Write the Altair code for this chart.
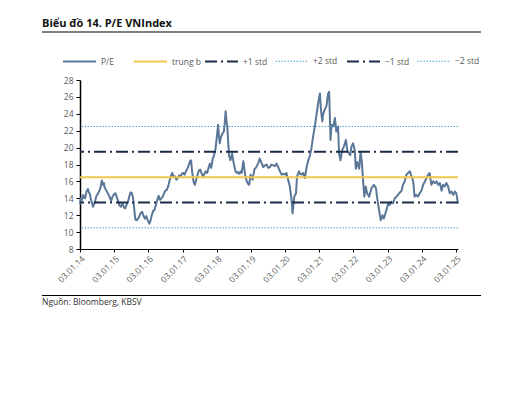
import altair as alt
import pandas as pd

# P/E VNIndex, sampled along decimal years
years = [
    2014.00, 2014.03, 2014.06, 2014.09, 2014.12, 2014.15, 2014.19, 2014.23, 2014.26, 2014.29,
    2014.32, 2014.35, 2014.38, 2014.41, 2014.44, 2014.48, 2014.52, 2014.57, 2014.60, 2014.64,
    2014.67, 2014.70, 2014.72, 2014.76, 2014.80, 2014.84, 2014.88, 2014.91, 2014.95, 2015.00,
    2015.04, 2015.08, 2015.12, 2015.15, 2015.20, 2015.24, 2015.28, 2015.32, 2015.36, 2015.40,
    2015.44, 2015.48, 2015.52, 2015.56, 2015.59, 2015.62, 2015.66, 2015.70, 2015.74, 2015.78,
    2015.82, 2015.86, 2015.90, 2015.94, 2015.97, 2016.03, 2016.06, 2016.10, 2016.14, 2016.18,
    2016.22, 2016.26, 2016.30, 2016.34, 2016.38, 2016.42, 2016.46, 2016.50, 2016.54, 2016.58,
    2016.62, 2016.66, 2016.70, 2016.74, 2016.78, 2016.82, 2016.86, 2016.90, 2016.94, 2016.98,
    2017.02, 2017.06, 2017.10, 2017.14, 2017.18, 2017.22, 2017.25, 2017.28, 2017.32, 2017.36,
    2017.40, 2017.44, 2017.48, 2017.52, 2017.56, 2017.60, 2017.64, 2017.68, 2017.72, 2017.76,
    2017.80, 2017.84, 2017.88, 2017.92, 2017.96, 2018.00, 2018.04, 2018.07, 2018.09, 2018.12,
    2018.16, 2018.21, 2018.24, 2018.26, 2018.29, 2018.31, 2018.34, 2018.36, 2018.40, 2018.45,
    2018.50, 2018.55, 2018.59, 2018.62, 2018.66, 2018.70, 2018.73, 2018.76, 2018.78, 2018.81,
    2018.84, 2018.88, 2018.92, 2018.95, 2018.99, 2019.02, 2019.05, 2019.08, 2019.10, 2019.14,
    2019.17, 2019.21, 2019.26, 2019.31, 2019.36, 2019.41, 2019.46, 2019.51, 2019.56, 2019.60,
    2019.65, 2019.70, 2019.75, 2019.80, 2019.85, 2019.90, 2019.95, 2020.00, 2020.04, 2020.09,
    2020.14, 2020.19, 2020.22, 2020.25, 2020.27, 2020.32, 2020.35, 2020.41, 2020.44, 2020.48,
    2020.53, 2020.58, 2020.63, 2020.68, 2020.73, 2020.77, 2020.82, 2020.87, 2020.92, 2020.97,
    2021.02, 2021.05, 2021.09, 2021.11, 2021.16, 2021.21, 2021.26, 2021.29, 2021.33, 2021.36,
    2021.41, 2021.46, 2021.50, 2021.55, 2021.58, 2021.62, 2021.67, 2021.72, 2021.78, 2021.82,
    2021.87, 2021.91, 2021.94, 2021.99, 2022.04, 2022.07, 2022.11, 2022.17, 2022.21, 2022.25,
    2022.28, 2022.32, 2022.36, 2022.40, 2022.46, 2022.53, 2022.60, 2022.66, 2022.69, 2022.75,
    2022.80, 2022.85, 2022.89, 2022.95, 2023.02, 2023.06, 2023.11, 2023.16, 2023.21, 2023.26,
    2023.34, 2023.41, 2023.45, 2023.50, 2023.55, 2023.60, 2023.65, 2023.70, 2023.75, 2023.79,
    2023.84, 2023.89, 2023.94, 2023.99, 2024.04, 2024.09, 2024.14, 2024.19, 2024.23, 2024.28,
    2024.33, 2024.38, 2024.43, 2024.48, 2024.53, 2024.58, 2024.62, 2024.67, 2024.72, 2024.77,
    2024.82, 2024.87, 2024.92, 2024.97, 2025.01, 2025.06,
]
pe = [
    13.3, 14.0, 13.8, 14.4, 14.1, 14.0, 14.8, 15.1, 14.7, 14.5,
    13.8, 13.5, 13.0, 13.3, 13.6, 14.3, 14.5, 14.9, 15.3, 16.1,
    15.6, 15.8, 15.3, 15.0, 14.7, 14.4, 14.0, 13.7, 14.2, 14.5,
    14.6, 14.1, 13.6, 13.2, 13.0, 13.4, 13.0, 12.8, 13.2, 13.5,
    14.2, 14.7, 14.6, 13.8, 12.6, 11.5, 11.4, 11.6, 11.9, 12.3,
    12.4, 11.9, 11.6, 11.9, 11.5, 11.0, 11.3, 12.0, 12.5, 12.6,
    13.2, 13.8, 14.3, 13.8, 14.0, 14.2, 14.6, 14.9, 15.0, 15.4,
    16.1, 16.6, 17.0, 16.5, 16.6, 16.2, 16.4, 16.7, 16.6, 16.9,
    17.0, 16.8, 17.2, 17.5, 17.9, 18.4, 18.5, 17.2, 16.0, 15.6,
    16.2, 16.8, 17.3, 17.4, 16.9, 16.6, 16.9, 17.2, 17.0, 17.6,
    18.1, 17.6, 18.6, 19.1, 19.7, 21.1, 22.7, 21.2, 20.5, 21.2,
    21.6, 21.9, 23.2, 24.3, 23.0, 22.5, 20.4, 19.1, 18.5, 19.3,
    18.1, 17.2, 17.0, 17.1, 16.9, 17.2, 17.0, 17.8, 18.4, 17.4,
    16.6, 16.0, 15.7, 15.6, 16.8, 16.5, 16.2, 16.9, 17.4, 17.6,
    17.8, 18.1, 18.7, 18.2, 17.7, 17.9, 18.0, 17.6, 17.7, 18.0,
    17.9, 17.8, 18.1, 17.7, 17.2, 16.8, 16.9, 16.8, 17.0, 16.2,
    15.4, 13.8, 12.2, 13.4, 14.2, 14.6, 16.6, 17.2, 16.9, 16.8,
    17.0, 16.4, 17.7, 18.5, 19.1, 19.9, 21.3, 22.5, 23.9, 25.3,
    26.4, 24.5, 23.1, 23.9, 24.5, 24.9, 26.4, 26.6, 20.9, 22.7,
    22.5, 23.5, 21.9, 22.5, 19.3, 18.5, 19.7, 20.1, 20.9, 19.7,
    19.3, 19.1, 20.1, 20.5, 19.7, 17.5, 18.3, 17.5, 19.5, 18.1,
    16.2, 14.2, 15.4, 14.6, 14.2, 15.2, 15.6, 15.2, 14.2, 12.6,
    11.4, 12.0, 11.6, 12.4, 13.4, 13.2, 13.6, 13.4, 14.0, 14.2,
    14.6, 14.9, 15.6, 16.0, 16.8, 17.0, 17.2, 16.6, 16.0, 14.2,
    14.4, 14.2, 14.6, 14.9, 15.6, 16.0, 16.4, 16.8, 17.0, 15.6,
    16.0, 15.8, 16.0, 15.6, 15.8, 14.9, 15.6, 15.4, 15.8, 15.4,
    14.6, 14.8, 14.4, 14.8, 14.6, 13.4,
]

# Average and standard-deviation bands
level_names = ["trung b", "+1 std", "+2 std", "\u22121 std", "\u22122 std"]
level_values = [16.5, 19.5, 22.5, 13.5, 10.5]

series_order = ["P/E"] + level_names
series_colors = ["#5B7797", "#F0C84E", "#1C2B4A", "#4A9FCF", "#1C2B4A", "#4A9FCF"]
series_dash = [[1, 0], [1, 0], [12, 4, 2, 4], [1.5, 1.5], [12, 4, 2, 4], [1.5, 1.5]]
series_width = [2, 2, 2, 1, 2, 1]

year_ticks = list(range(2014, 2026))
pe_ticks = list(range(8, 29, 2))

title_text = "Biểu đồ 14. P/E VNIndex"
source_text = "Nguồn: Bloomberg, KBSV"

pe_df = pd.DataFrame({"year": years, "pe": pe, "series": "P/E"})
lvl_df = pd.DataFrame({"value": level_values, "series": level_names})

FONT = "Open Sans"

x_enc = alt.X(
    "year:Q",
    scale=alt.Scale(domain=[2014, 2025.06], nice=False, zero=False),
    axis=alt.Axis(
        values=year_ticks,
        labelExpr="'03.01.' + slice(toString(datum.value), 2)",
        labelAngle=-45,
        labelOverlap=False,
        grid=False,
        title=None,
        domainColor="#000000",
        domainWidth=1.2,
        tickColor="#000000",
        tickSize=3,
        labelFontSize=8.5,
        labelColor="#595959",
        labelFont=FONT,
        labelPadding=2,
    ),
)
y_scale = alt.Scale(domain=[8, 28], nice=False, zero=False)
y_axis = alt.Axis(
    values=pe_ticks,
    grid=False,
    title=None,
    labelOverlap=False,
    domainColor="#000000",
    domainWidth=1.5,
    tickColor="#000000",
    tickSize=4,
    labelFontSize=8.5,
    labelColor="#595959",
    labelFont=FONT,
    labelPadding=3,
)

legend = alt.Legend(title=None)
color_enc = alt.Color("series:N", scale=alt.Scale(domain=series_order, range=series_colors), legend=legend)
dash_enc = alt.StrokeDash("series:N", scale=alt.Scale(domain=series_order, range=series_dash), legend=legend)
width_enc = alt.StrokeWidth(
    "series:N",
    scale=alt.Scale(type="ordinal", domain=series_order, range=series_width),
    legend=legend,
)

pe_line = alt.Chart(pe_df).mark_line(strokeJoin="round").encode(
    x=x_enc,
    y=alt.Y("pe:Q", scale=y_scale, axis=y_axis),
    color=color_enc,
    strokeDash=dash_enc,
    strokeWidth=width_enc,
)

bands = alt.Chart(lvl_df).mark_rule().encode(
    y=alt.Y("value:Q", scale=y_scale, axis=y_axis),
    color=color_enc,
    strokeDash=dash_enc,
    strokeWidth=width_enc,
)

heading = alt.Chart(pd.DataFrame({"label": [title_text]})).mark_text(
    align="left", baseline="middle", font=FONT, fontWeight="bold", fontSize=11, color="#111111"
).encode(x=alt.value(-38), y=alt.value(-56), text="label:N")

heading_rule = alt.Chart(pd.DataFrame({"k": [0]})).mark_rule(color="#000000", strokeWidth=1).encode(
    x=alt.value(-38), x2=alt.value(401), y=alt.value(-48)
)

footer_rule = alt.Chart(pd.DataFrame({"k": [0]})).mark_rule(color="#000000", strokeWidth=1).encode(
    x=alt.value(-38), x2=alt.value(401), y=alt.value(215.5)
)

footer = alt.Chart(pd.DataFrame({"label": [source_text]})).mark_text(
    align="left", baseline="middle", font=FONT, fontSize=8.5, color="#333333"
).encode(x=alt.value(-38), y=alt.value(222), text="label:N")

chart = (
    alt.layer(pe_line, bands, heading, heading_rule, footer_rule, footer)
    .properties(
        width=378,
        height=169,
        autosize=alt.AutoSizeParams(type="none"),
        padding={"left": 80, "top": 80, "right": 63, "bottom": 154},
        background="#ffffff",
    )
    .configure_view(stroke=None)
    .configure_legend(
        orient="none",
        legendX=-18,
        legendY=-36,
        direction="horizontal",
        gridAlign="all",
        symbolType="stroke",
        symbolSize=1089,
        labelFontSize=8.5,
        labelFont=FONT,
        labelColor="#595959",
        labelOffset=4,
        columnPadding=0,
        padding=0,
    )
)

chart.save("out.html", embed_options={"renderer": "svg", "actions": False})
